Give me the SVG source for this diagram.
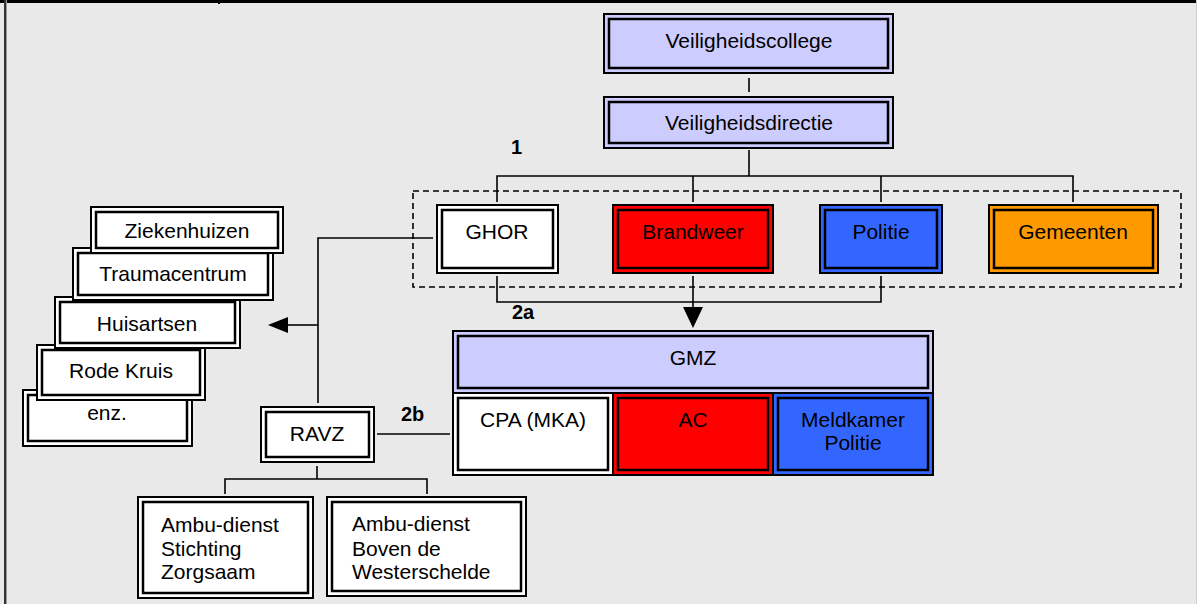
<svg xmlns="http://www.w3.org/2000/svg" width="1197" height="604" viewBox="0 0 1197 604">
<style>
.o{stroke:#000;stroke-width:2}
.i{fill:none;stroke:#000;stroke-width:2.5}
.t{font-family:"Liberation Sans",Arial,sans-serif;font-size:21px;fill:#000;text-anchor:middle}
.tl{font-family:"Liberation Sans",Arial,sans-serif;font-size:21px;fill:#000}
.b{font-family:"Liberation Sans",Arial,sans-serif;font-size:20px;font-weight:bold;fill:#000}
.c{fill:none;stroke:#000;stroke-width:1.6}
.lav{fill:#ccccff}.wh{fill:#fff}.red{fill:#ff0000}.blu{fill:#3366ff}.org{fill:#ff9900}
</style>
<rect x="0" y="0" width="1197" height="604" fill="#e9e9e9"/>
<rect x="0" y="0" width="1197" height="3" fill="#000"/>
<rect x="4" y="0" width="2" height="604" fill="#333"/>
<rect x="6" y="0" width="1" height="604" fill="#999"/>
<rect x="1196" y="0" width="1" height="604" fill="#d0d0d0"/>
<line x1="219" y1="0" x2="219" y2="4" stroke="#000" stroke-width="2"/>

<g id="connectors">
<line class="c" x1="749" y1="78" x2="749" y2="92"/>
<line class="c" x1="749" y1="150" x2="749" y2="176" stroke-width="2.5"/>
<polyline class="c" points="497,202 497,176 1073,176 1073,202"/>
<line class="c" x1="693" y1="176" x2="693" y2="202"/>
<line class="c" x1="881" y1="176" x2="881" y2="202"/>
<rect x="413" y="191" width="768" height="96" fill="none" stroke="#000" stroke-width="1.6" stroke-dasharray="6,4"/>
<polyline class="c" points="497,276 497,302 881,302 881,276"/>
<line class="c" x1="693" y1="276" x2="693" y2="308"/>
<polygon points="683,307 703,307 693,328" fill="#000"/>
<polyline class="c" points="433,238 318,238 318,403"/>
<line class="c" x1="318" y1="325" x2="287" y2="325"/>
<polygon points="268,325 288,317 288,333" fill="#000"/>
<line class="c" x1="377" y1="434" x2="450" y2="434"/>
<polyline class="c" points="317,466 317,479"/>
<polyline class="c" points="225,494 225,479 427,479 427,494"/>
</g>

<g id="n-veiligheidscollege">
<rect class="o lav" x="604" y="14" width="289" height="59"/>
<rect class="i" x="609" y="19" width="279" height="49"/>
<text class="t" x="749" y="48">Veiligheidscollege</text>
</g>
<g id="n-veiligheidsdirectie">
<rect class="o lav" x="604" y="97" width="289" height="51"/>
<rect class="i" x="609" y="102" width="279" height="41"/>
<text class="t" x="749" y="130">Veiligheidsdirectie</text>
</g>

<g id="n-ghor">
<rect class="o wh" x="437" y="205" width="121" height="68"/>
<rect class="i" x="442" y="210" width="111" height="58"/>
<text class="t" x="497" y="239">GHOR</text>
</g>
<g id="n-brandweer">
<rect class="o red" x="613" y="205" width="160" height="68"/>
<rect class="i" x="618" y="210" width="150" height="58"/>
<text class="t" x="693" y="239">Brandweer</text>
</g>
<g id="n-politie">
<rect class="o blu" x="820" y="205" width="122" height="68"/>
<rect class="i" x="825" y="210" width="112" height="58"/>
<text class="t" x="881" y="239">Politie</text>
</g>
<g id="n-gemeenten">
<rect class="o org" x="989" y="205" width="169" height="68"/>
<rect class="i" x="994" y="210" width="159" height="58"/>
<text class="t" x="1073" y="239">Gemeenten</text>
</g>

<g id="labels">
<text class="b" x="511" y="154">1</text>
<text class="b" x="512" y="319">2a</text>
<text class="b" x="401" y="421">2b</text>
</g>

<g id="n-gmz">
<rect class="o lav" x="453" y="331" width="480" height="62"/>
<rect class="i" x="458" y="336" width="470" height="52"/>
<text class="t" x="693" y="365">GMZ</text>
</g>
<g id="n-cpa">
<rect class="o wh" x="453" y="393" width="160" height="82"/>
<rect class="i" x="458" y="398" width="150" height="72"/>
<text class="t" x="533" y="427">CPA (MKA)</text>
</g>
<g id="n-ac">
<rect class="o red" x="613" y="393" width="160" height="82"/>
<rect class="i" x="618" y="398" width="150" height="72"/>
<text class="t" x="693" y="427">AC</text>
</g>
<g id="n-meldkamer">
<rect class="o blu" x="773" y="393" width="160" height="82"/>
<rect class="i" x="778" y="398" width="150" height="72"/>
<text class="t" x="853" y="427">Meldkamer</text>
<text class="t" x="853" y="450">Politie</text>
</g>

<g id="n-enz">
<rect class="o wh" x="23" y="390" width="169" height="56"/>
<rect class="i" x="28" y="395" width="159" height="46"/>
<text class="t" x="107" y="420">enz.</text>
</g>
<g id="n-rodekruis">
<rect class="o wh" x="37" y="345" width="168" height="55"/>
<rect class="i" x="42" y="350" width="158" height="45"/>
<text class="t" x="121" y="378">Rode Kruis</text>
</g>
<g id="n-huisartsen">
<rect class="o wh" x="55" y="297" width="185" height="51"/>
<rect class="i" x="60" y="302" width="175" height="41"/>
<text class="t" x="147" y="331">Huisartsen</text>
</g>
<g id="n-traumacentrum">
<rect class="o wh" x="73" y="248" width="200" height="52"/>
<rect class="i" x="78" y="253" width="190" height="42"/>
<text class="t" x="173" y="281">Traumacentrum</text>
</g>
<g id="n-ziekenhuizen">
<rect class="o wh" x="91" y="207" width="192" height="46"/>
<rect class="i" x="96" y="212" width="182" height="36"/>
<text class="t" x="187" y="238">Ziekenhuizen</text>
</g>

<g id="n-ravz">
<rect class="o wh" x="261" y="407" width="113" height="55"/>
<rect class="i" x="266" y="412" width="103" height="45"/>
<text class="t" x="317" y="441">RAVZ</text>
</g>
<g id="n-zorgsaam">
<rect class="o wh" x="138" y="497" width="175" height="101"/>
<rect class="i" x="143" y="502" width="165" height="91"/>
<text class="tl" x="161" y="532">Ambu-dienst</text>
<text class="tl" x="161" y="556">Stichting</text>
<text class="tl" x="161" y="579">Zorgsaam</text>
</g>
<g id="n-westerschelde">
<rect class="o wh" x="327" y="497" width="199" height="99"/>
<rect class="i" x="332" y="502" width="189" height="89"/>
<text class="tl" x="352" y="531">Ambu-dienst</text>
<text class="tl" x="352" y="556">Boven de</text>
<text class="tl" x="352" y="579">Westerschelde</text>
</g>
</svg>
